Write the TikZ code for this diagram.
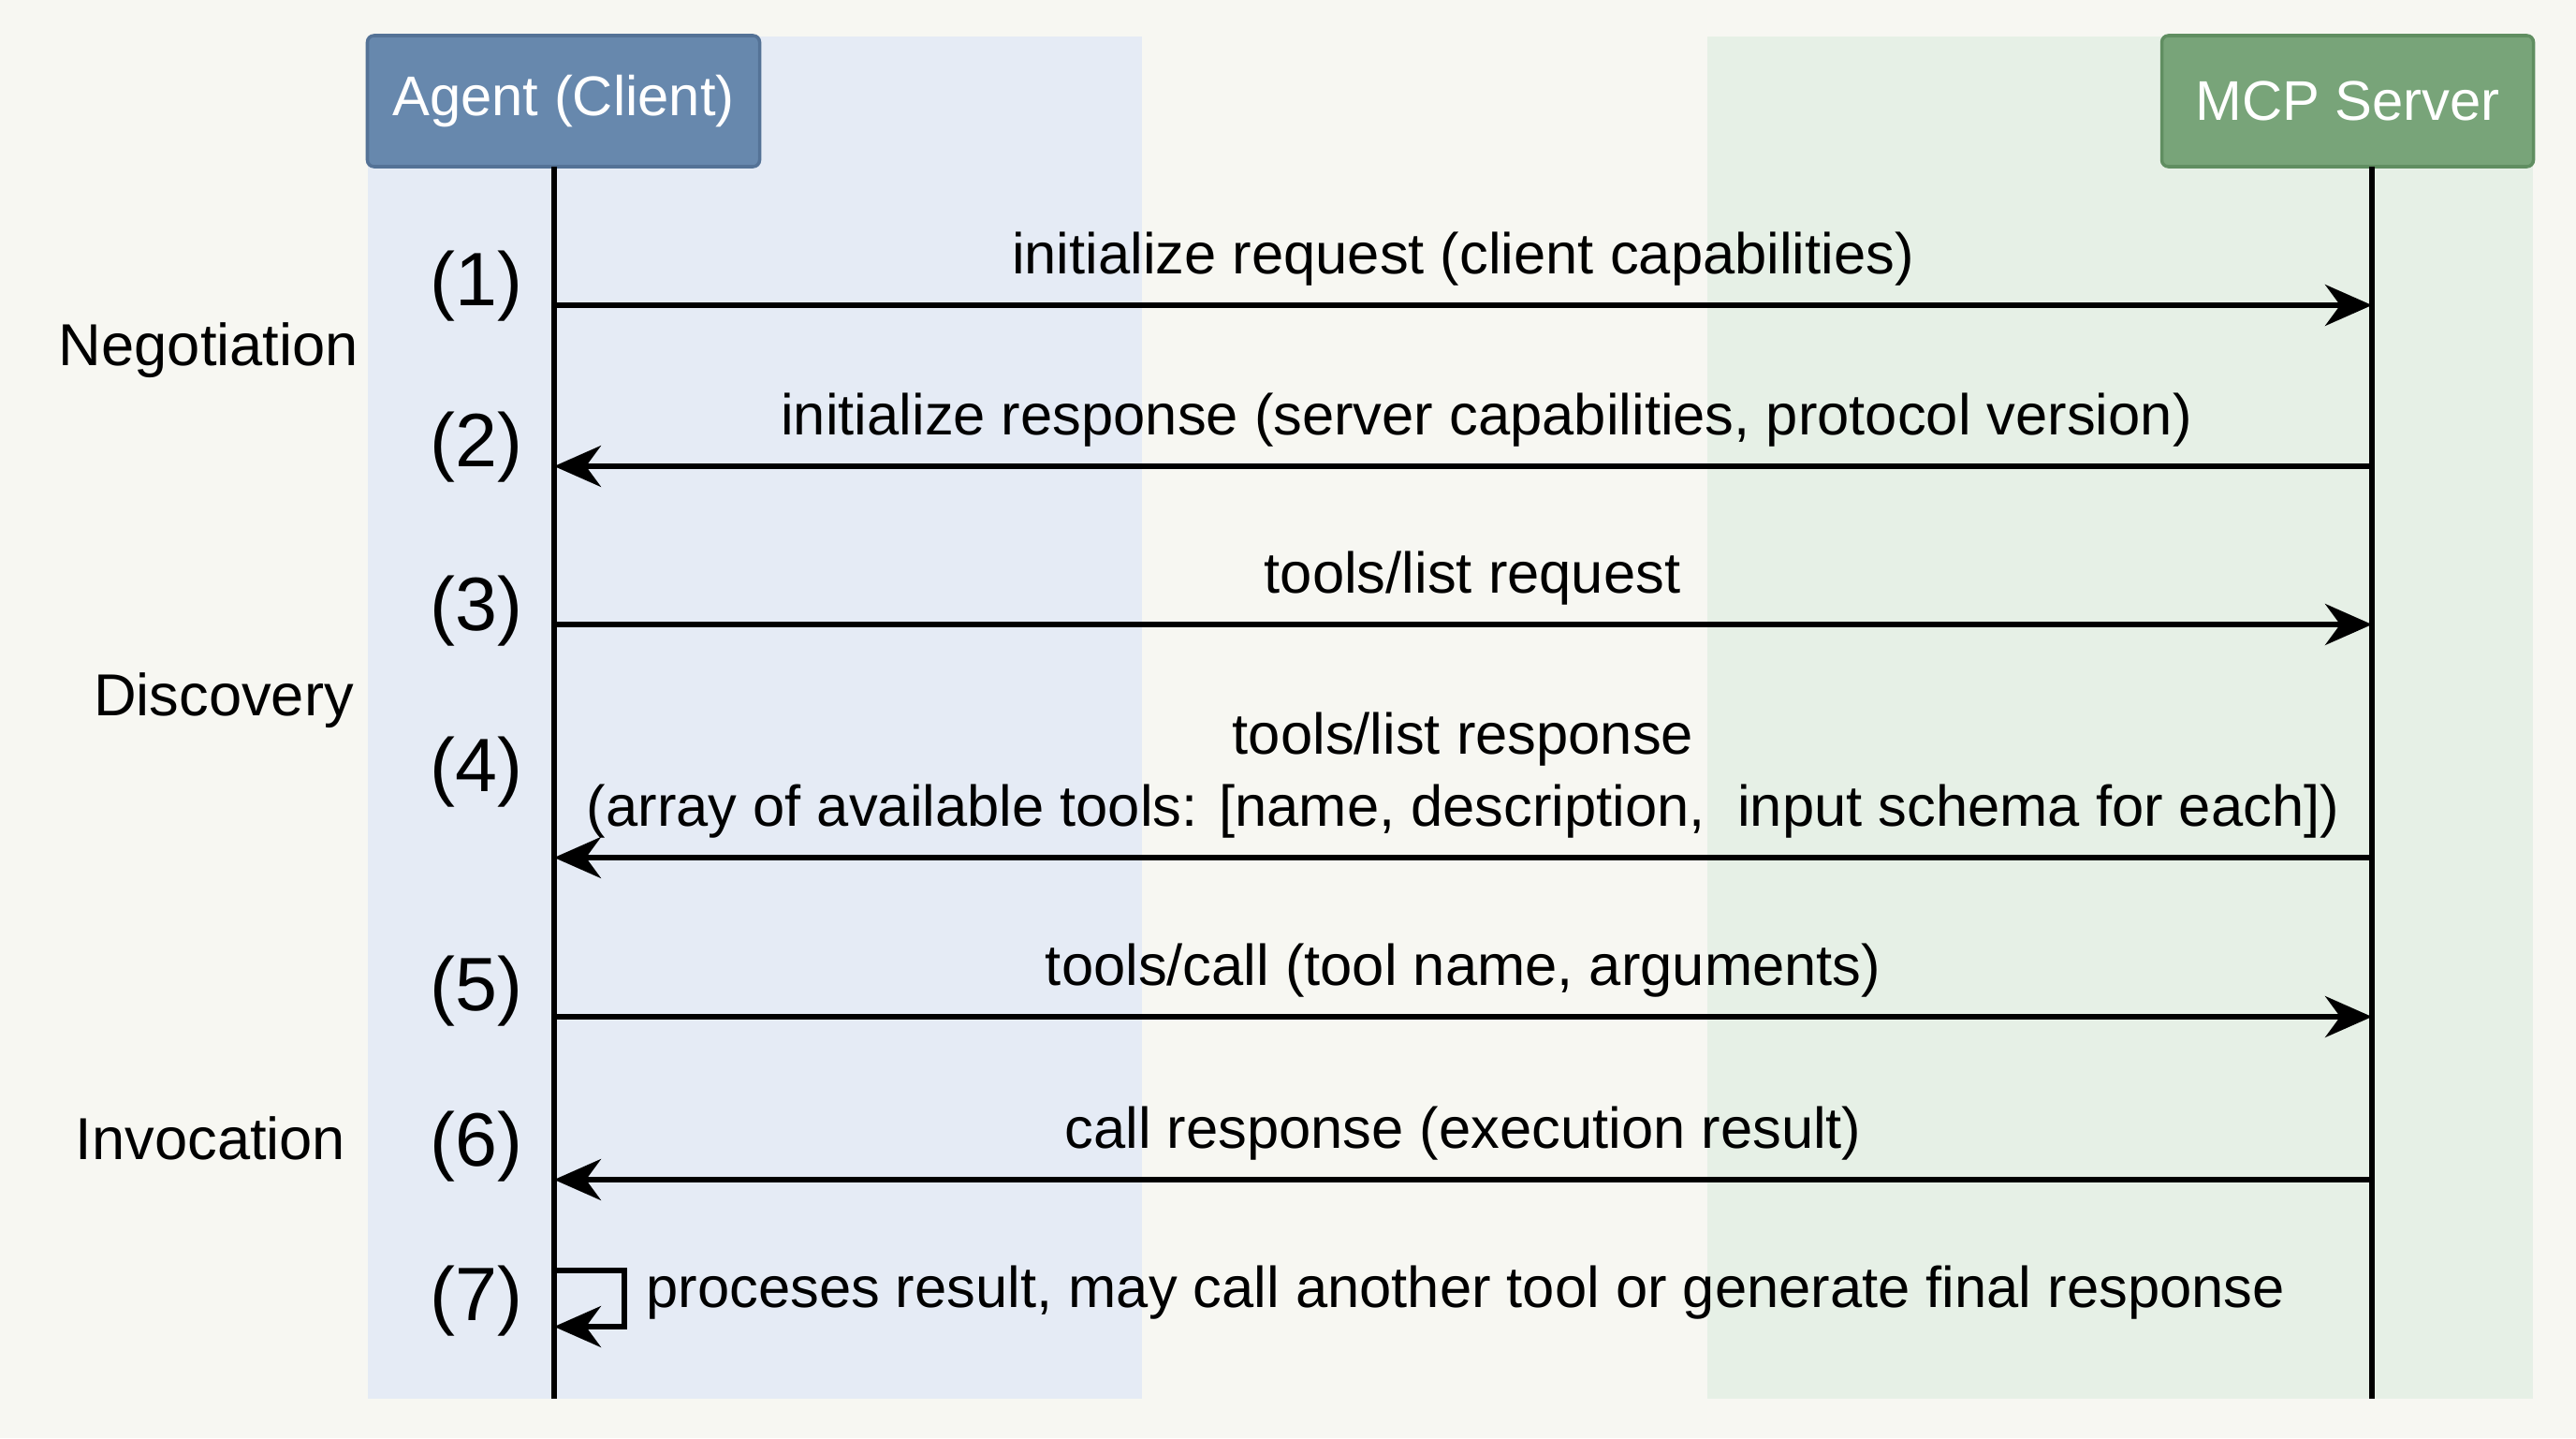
\documentclass[tikz,border=0pt]{standalone}
\usepackage{fontspec}
\setmainfont{Liberation Sans}
\usepackage{tikz}
\usetikzlibrary{arrows.meta,positioning}
\definecolor{paper}{RGB}{247,247,242}
\definecolor{clientband}{RGB}{229,235,245}
\definecolor{serverband}{RGB}{230,240,230}
\definecolor{clientblue}{RGB}{103,136,173}
\definecolor{clientedge}{RGB}{84,114,150}
\definecolor{servergreen}{RGB}{120,164,121}
\definecolor{serveredge}{RGB}{96,142,97}

\tikzset{
  header/.style={draw, line width=1pt, rounded corners=2pt, text=white, font=\fontsize{17}{20}\selectfont, minimum height=1.4cm, inner sep=0pt},
  lifeline/.style={line width=1.6pt},
  msg/.style={line width=1.5pt, -{Stealth[length=5mm,width=4.4mm,inset=1.6mm]}},
  msglabel/.style={font=\fontsize{17.5}{22}\selectfont, above=0.06cm, align=center},
  selflabel/.style={font=\fontsize{17.5}{22}\selectfont, anchor=west},
  stepnum/.style={font=\fontsize{23}{26}\selectfont},
  phase/.style={font=\fontsize{18}{21}\selectfont}
}

\begin{document}
\begin{tikzpicture}
    % Canvas
    \fill[paper] (0,0) rectangle (27.52,-15.36);
    \useasboundingbox (0,0) rectangle (27.52,-15.36);

    % Lanes
    \fill[clientband] (3.93,-0.39) rectangle (12.20,-14.94);
    \fill[serverband] (18.24,-0.39) rectangle (27.06,-14.94);

    % Participants
    \node[header, fill=clientblue, draw=clientedge, minimum width=4.19cm] (agent) at (6.02,-1.08) {Agent (Client)};
    \node[header, fill=servergreen, draw=serveredge, minimum width=3.97cm] (server) at (25.08,-1.08) {MCP Server};

    % Lifelines
    \coordinate (agenttop) at (5.92,-1.78);
    \coordinate (agentend) at (5.92,-14.94);
    \coordinate (servertop) at (25.34,-1.78);
    \coordinate (serverend) at (25.34,-14.94);
    \draw[lifeline] (agenttop) -- (agentend);
    \draw[lifeline] (servertop) -- (serverend);

    % Message ends on both lifelines
    \foreach \i/\y in {1/-3.26, 2/-4.98, 3/-6.67, 4/-9.16, 5/-10.86, 6/-12.60} {
        \coordinate (a\i) at (5.92,\y);
        \coordinate (s\i) at (25.34,\y);
    }

    % Messages
    \draw[msg] (a1) -- node[msglabel] (m1) {initialize request (client capabilities)} (s1);
    \draw[msg] (s2) -- node[msglabel, xshift=0.25cm] (m2) {initialize response (server capabilities, protocol version)} (a2);
    \draw[msg] (a3) -- node[msglabel, xshift=0.1cm] (m3) {tools/list request} (s3);
    \draw[msg] (s4) -- node[msglabel] (m4) {tools/list response\\(array of available tools: [name, description,\ \ input schema for each])} (a4);
    \draw[msg] (a5) -- node[msglabel] (m5) {tools/call (tool name, arguments)} (s5);
    \draw[msg] (s6) -- node[msglabel] (m6) {call response (execution result)} (a6);

    % Self call
    \coordinate (a7) at (5.92,-13.57);
    \coordinate (a7back) at (5.92,-14.17);
    \draw[msg] (a7) -- ++(0.75,0) |- (a7back);
    \node[selflabel] (m7) at (6.78,-13.81) {proceses result, may call another tool or generate final response};

    % Step numbers
    \foreach \i/\y in {1/-3.06, 2/-4.78, 3/-6.53, 4/-8.25, 5/-10.59, 6/-12.25, 7/-13.90}
        \node[stepnum] (n\i) at (5.09,\y) {(\i)};

    % Phases
    \node[phase] (negotiation) at (2.23,-3.74) {Negotiation};
    \node[phase] (discovery) at (2.39,-7.48) {Discovery};
    \node[phase] (invocation) at (2.25,-12.16) {Invocation};
\end{tikzpicture}
\end{document}
